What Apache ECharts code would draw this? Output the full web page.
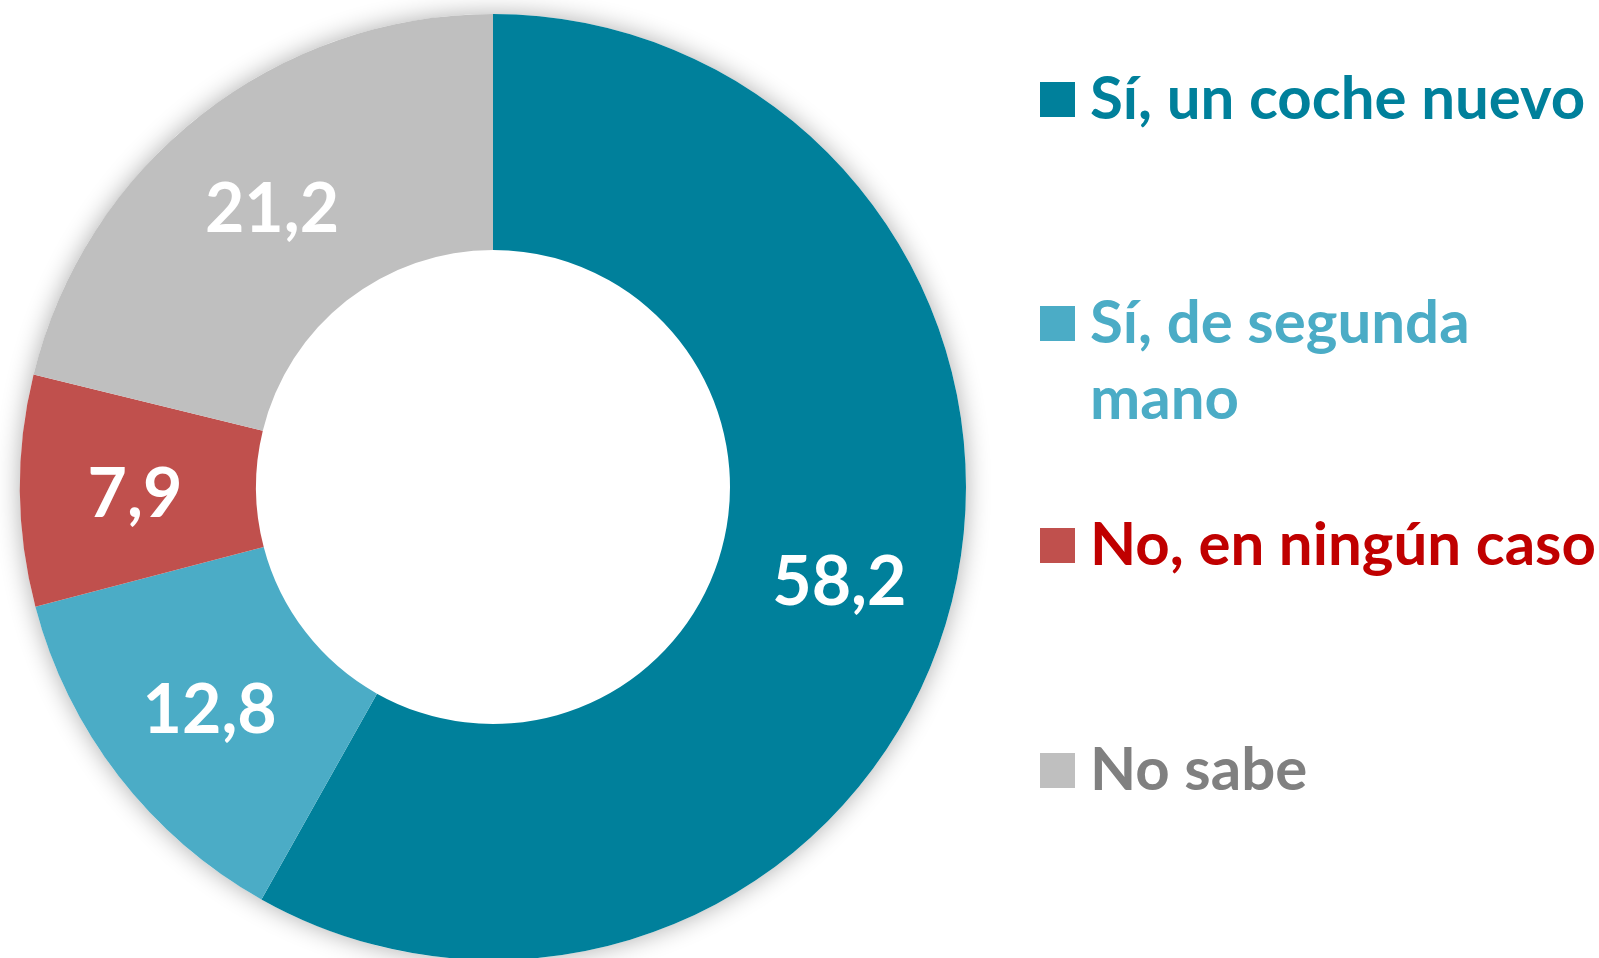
<!DOCTYPE html>
<html>
<head>
<meta charset="utf-8">
<script src="https://cdn.jsdelivr.net/npm/echarts@6/dist/echarts.min.js"></script>
<style>
  html, body { margin: 0; padding: 0; background: #fff; }
  #chart { width: 1599px; height: 958px; }
</style>
</head>
<body>
<div id="chart"></div>
<script>
const categories = ['Sí, un coche nuevo', 'Sí, de segunda mano', 'No, en ningún caso', 'No sabe']
const values = [58.2, 12.8, 7.9, 21.2]
const sliceColors = ['#00809B', '#4BACC6', '#C0504D', '#BFBFBF']
const legendTextColors = ['#00809B', '#4BACC6', '#C00000', '#808080']
const legendCenters = [99, 323, 545, 770]

const chart = echarts.init(document.getElementById('chart'))

const legends = categories.map((name, i) => ({
  data: [name],
  left: 1040,
  top: legendCenters[i] - 17.5 - 12,
  orient: 'vertical',
  padding: 0,
  icon: 'rect',
  itemWidth: 35,
  itemHeight: 35,
  selectedMode: false,
  formatter: n => n === 'Sí, de segunda mano' ? 'Sí, de segunda' : n,
  textStyle: {
    color: legendTextColors[i],
    fontFamily: 'Lato',
    fontWeight: 'bold',
    fontSize: 60,
    lineHeight: 35,
    padding: [0, 0, 0, 10]
  }
}))

const option = {
  backgroundColor: '#fff',
  animation: false,
  legend: legends,
  graphic: [{
    type: 'text',
    left: 1090,
    top: 400 - 30,
    style: {
      text: 'mano',
      fill: legendTextColors[1],
      font: 'bold 60px Lato'
    }
  }],
  series: [
    {
      // white disc behind the ring, only for the soft shadow
      type: 'pie',
      silent: true,
      center: [493, 487],
      radius: [0, 473],
      label: { show: false },
      itemStyle: {
        color: '#fff',
        shadowBlur: 24,
        shadowColor: 'rgba(0,0,0,0.32)'
      },
      data: [{ value: 1, name: '_bg' }]
    },
    {
      type: 'pie',
      center: [493, 487],
      radius: [237, 473],
      startAngle: 90,
      clockwise: true,
      avoidLabelOverlap: false,
      label: {
        show: true,
        position: 'inside',
        color: '#fff',
        fontFamily: 'Lato',
        fontWeight: 'bold',
        fontSize: 68,
        textBorderWidth: 0,
        offset: [0, 5],
        formatter: p => p.value.toFixed(1).replace('.', ',')
      },
      labelLine: { show: false },
      itemStyle: { borderWidth: 0 },
      emphasis: { disabled: true },
      data: categories.map((name, i) => ({
        name: name,
        value: values[i],
        itemStyle: { color: sliceColors[i] }
      }))
    }
  ]
}

chart.setOption(option)
</script>
</body>
</html>
